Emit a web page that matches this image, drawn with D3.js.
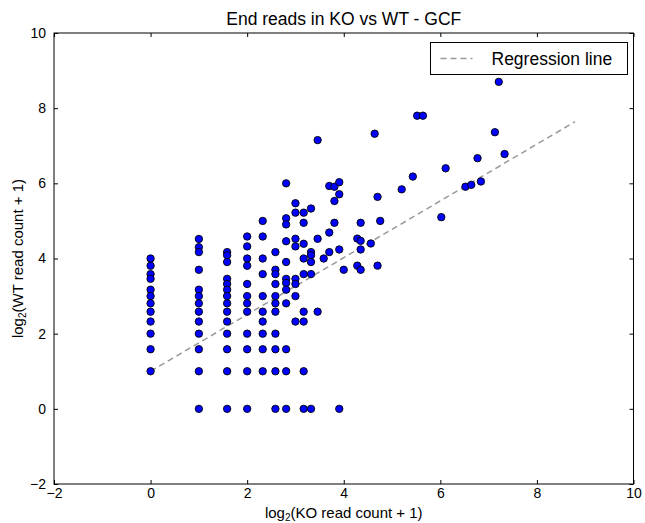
<!DOCTYPE html>
<html>
<head>
<meta charset="utf-8">
<script src="https://cdn.jsdelivr.net/npm/d3@7"></script>
<style>
  body { margin: 0; background: #fff; }
  svg { display: block; font-family: "Liberation Sans", Arial, sans-serif; }
</style>
</head>
<body>
<div id="chart"></div>
<script>
// ==========================================
// DATA (log2 read counts)
// ==========================================
const koColumns = [0, 1, 1.585, 2, 2.322, 2.585, 2.807, 3, 3.17, 3.322, 3.459, 3.585,
                   3.7, 3.807, 3.907, 4, 4.28, 4.35, 4.56, 4.64, 4.7, 4.755];
const wtByColumn = [
    [4, 3.807, 3.585, 3.459, 3.17, 3, 2.807, 2.585, 2.322, 2, 1.585, 1],
    [4.52, 4.3, 4.17, 3.7, 3.17, 3, 2.807, 2.585, 2.322, 2, 1.585, 1, 0],
    [4.17, 4.087, 3.907, 3.459, 3.322, 3.17, 3, 2.807, 2.585, 2.322, 2, 1.585, 1, 0],
    [4.585, 4.322, 4, 3.807, 3.322, 3, 2.807, 2.585, 2, 1.585, 1, 0],
    [5, 4.585, 4, 3.585, 3, 2.585, 2.322, 2, 1.585, 1],
    [4.17, 3.7, 3.585, 3.322, 3, 2.807, 2.585, 2, 1.585, 1, 0],
    [6, 5.07, 4.907, 4.459, 3.907, 3.459, 3.35, 3.17, 2.807, 1.585, 1, 0],
    [5.47, 5.22, 4.524, 4.322, 3.459, 3.322, 3, 2.322],
    [5.22, 4.95, 4.392, 4, 3.585, 2.585, 2.322, 1, 0],
    [5.33, 4.17, 4.087, 3.907, 3.585, 0],
    [7.15, 4.524, 2.585],
    [4],
    [5.93, 4.69, 4.17],
    [5.91, 5.53, 4.95],
    [6.03, 5.71, 4.24, 0],
    [3.7],
    [4.53, 3.81],
    [4.95, 4.47, 4.24, 3.7],
    [4.4],
    [7.32],
    [5.64, 3.81],
    [5.0]
];
// scattered points further right
const koSingles = [5.2, 5.43, 5.52, 5.64, 6.02, 6.11, 6.52, 6.64, 6.77, 6.84, 7.13, 7.21, 7.33];
const wtSingles = [5.84, 6.18, 7.8, 7.8, 5.1, 6.4, 5.91, 5.96, 6.67, 6.05, 7.36, 8.7, 6.78];

const regX = [0, 8.79];
const regY = [1.0, 7.64];

const xTicks = [-2, 0, 2, 4, 6, 8, 10];
const yTicks = [-2, 0, 2, 4, 6, 8, 10];

const chartTitle = "End reads in KO vs WT - GCF";
const legendLabel = "Regression line";

// ==========================================
// CHART
// ==========================================
const width = 645, height = 523;
const plot = {left: 54, right: 633.5, top: 33, bottom: 484};

const points = [];
koColumns.forEach((k, i) => wtByColumn[i].forEach(w => points.push([k, w])));
koSingles.forEach((k, i) => points.push([k, wtSingles[i]]));

const x = d3.scaleLinear().domain([-2, 10]).range([plot.left, plot.right]);
const y = d3.scaleLinear().domain([-2, 10]).range([plot.bottom, plot.top]);

const svg = d3.select("#chart").append("svg")
    .attr("width", width).attr("height", height);

// axes (inward ticks on all four sides)
const styleAxis = g => {
    g.select(".domain").remove();
    g.selectAll("line").attr("stroke", "#000");
    g.selectAll("text").attr("font-size", "14px").attr("fill", "#000")
        .attr("font-family", "Liberation Sans, Arial, sans-serif");
};
svg.append("g").attr("transform", `translate(0,${plot.bottom})`)
    .call(d3.axisBottom(x).tickValues(xTicks).tickSize(-4).tickPadding(4).tickFormat(d3.format("d")))
    .call(styleAxis);
svg.append("g").attr("transform", `translate(0,${plot.top})`)
    .call(d3.axisTop(x).tickValues(xTicks).tickSize(-4).tickFormat(""))
    .call(styleAxis);
svg.append("g").attr("transform", `translate(${plot.left},0)`)
    .call(d3.axisLeft(y).tickValues(yTicks).tickSize(-4).tickPadding(8).tickFormat(d3.format("d")))
    .call(styleAxis);
svg.append("g").attr("transform", `translate(${plot.right},0)`)
    .call(d3.axisRight(y).tickValues(yTicks).tickSize(-4).tickFormat(""))
    .call(styleAxis);

// regression line
svg.append("line")
    .attr("x1", x(regX[0])).attr("y1", y(regY[0]))
    .attr("x2", x(regX[1])).attr("y2", y(regY[1]))
    .attr("stroke", "#999").attr("stroke-width", 1.5).attr("stroke-dasharray", "6,4");

// scatter
svg.append("g").selectAll("circle").data(points).join("circle")
    .attr("cx", d => x(d[0])).attr("cy", d => y(d[1])).attr("r", 3.7)
    .attr("fill", "#0000ff").attr("stroke", "#000").attr("stroke-width", 0.9);

// frame
svg.append("rect")
    .attr("x", plot.left).attr("y", plot.top)
    .attr("width", plot.right - plot.left).attr("height", plot.bottom - plot.top)
    .attr("fill", "none").attr("stroke", "#000").attr("stroke-width", 1);

// title
svg.append("text").attr("x", (plot.left + plot.right) / 2).attr("y", 25)
    .attr("text-anchor", "middle").attr("font-size", "17.5px").text(chartTitle);

// axis labels with subscript 2
const xLab = svg.append("text").attr("x", (plot.left + plot.right) / 2).attr("y", 518)
    .attr("text-anchor", "middle").attr("font-size", "15px");
xLab.append("tspan").text("log");
xLab.append("tspan").attr("font-size", "10px").attr("dy", 3).text("2");
xLab.append("tspan").attr("dy", -3).text("(KO read count + 1)");

const yLab = svg.append("text")
    .attr("transform", `translate(23,${(plot.top + plot.bottom) / 2}) rotate(-90)`)
    .attr("text-anchor", "middle").attr("font-size", "15px");
yLab.append("tspan").text("log");
yLab.append("tspan").attr("font-size", "10px").attr("dy", 3).text("2");
yLab.append("tspan").attr("dy", -3).text("(WT read count + 1)");

// legend
const legend = svg.append("g").attr("transform", "translate(430.5,42.5)");
legend.append("rect").attr("width", 197).attr("height", 32)
    .attr("fill", "#fff").attr("stroke", "#000").attr("stroke-width", 1);
legend.append("line").attr("x1", 10).attr("y1", 16).attr("x2", 42).attr("y2", 16)
    .attr("stroke", "#999").attr("stroke-width", 1.5).attr("stroke-dasharray", "6,4");
legend.append("text").attr("x", 61).attr("y", 22).attr("font-size", "17.5px").text(legendLabel);
</script>
</body>
</html>
